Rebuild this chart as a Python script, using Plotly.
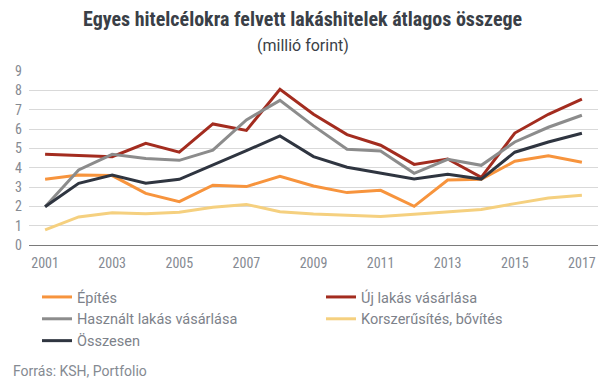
import plotly.graph_objects as go

years = list(range(2001, 2018))
epites = [3.40, 3.62, 3.59, 2.67, 2.24, 3.09, 3.02, 3.55, 3.05, 2.71, 2.83, 2.00, 3.36, 3.40, 4.33, 4.62, 4.28]
uj_lakas = [4.69, 4.62, 4.57, 5.26, 4.80, 6.26, 5.93, 8.05, 6.76, 5.71, 5.16, 4.17, 4.45, 3.50, 5.79, 6.76, 7.55]
hasznalt = [1.98, 3.88, 4.69, 4.47, 4.38, 4.91, 6.47, 7.48, 6.16, 4.95, 4.86, 3.71, 4.43, 4.12, 5.33, 6.09, 6.71]
korszerusites = [0.78, 1.45, 1.67, 1.62, 1.69, 1.95, 2.10, 1.72, 1.60, 1.53, 1.48, 1.59, 1.72, 1.84, 2.14, 2.43, 2.57]
osszesen = [1.98, 3.19, 3.62, 3.19, 3.40, 4.12, 4.88, 5.64, 4.57, 4.02, 3.71, 3.41, 3.66, 3.41, 4.80, 5.33, 5.78]

series = [
    ("Építés", epites, "#F7943D"),
    ("Új lakás vásárlása", uj_lakas, "#A32C1F"),
    ("Használt lakás vásárlása", hasznalt, "#8C8C8C"),
    ("Korszerűsítés, bővítés", korszerusites, "#F5D07F"),
    ("Összesen", osszesen, "#2F3540"),
]

NARROW = "Roboto Condensed, Liberation Sans Narrow, Roboto, sans-serif"
ROBOTO = "Roboto, sans-serif"

fig = go.Figure()
for name, vals, col in series:
    fig.add_trace(go.Scatter(x=years, y=vals, name=name, mode="lines",
                             line=dict(color=col, width=3)))

fig.update_layout(
    width=605, height=378,
    margin=dict(l=29, r=7, t=71, b=133),
    paper_bgcolor="white", plot_bgcolor="white",
    font=dict(family=NARROW, color="#858a92", size=14),
    xaxis=dict(range=[2000.52, 2017.48], tickvals=list(range(2001, 2018, 2)),
               showgrid=False, zeroline=False, showline=False, ticks="",
               tickfont=dict(size=14, color="#858a92"), ticklabelstandoff=8),
    yaxis=dict(range=[0, 9], dtick=1, gridcolor="#d9d9d9", gridwidth=1,
               zeroline=True, zerolinecolor="#7a7a7a", zerolinewidth=1,
               showline=False, ticks="", tickfont=dict(size=14, color="#858a92"),
               ticklabelstandoff=6),
    legend=dict(orientation="h", x=0.0268, xanchor="left", y=-0.207, yanchor="top",
                entrywidth=239, font=dict(family=ROBOTO, size=14.5, color="#7d828a"),
                itemwidth=30, traceorder="normal"),
    showlegend=True,
)

fig.add_annotation(text="<b>Egyes hitelcélokra felvett lakáshitelek átlagos összege</b>",
                   xref="paper", yref="paper", x=0.4807, y=1.296, xanchor="center",
                   yanchor="middle", showarrow=False,
                   font=dict(family=NARROW, size=20, color="#3a3f47"))
fig.add_annotation(text="(millió forint)",
                   xref="paper", yref="paper", x=0.4807, y=1.1437, xanchor="center",
                   yanchor="middle", showarrow=False,
                   font=dict(family=ROBOTO, size=16, color="#3a3f47"))
fig.add_annotation(text="Forrás: KSH, Portfolio", xref="paper", yref="paper",
                   x=-0.0316, y=-0.724, xanchor="left", yanchor="middle", showarrow=False,
                   font=dict(family=ROBOTO, size=14, color="#858a92"))

fig.write_html("out.html", config={"displayModeBar": False},
               post_script="document.body.style.margin='0';")
